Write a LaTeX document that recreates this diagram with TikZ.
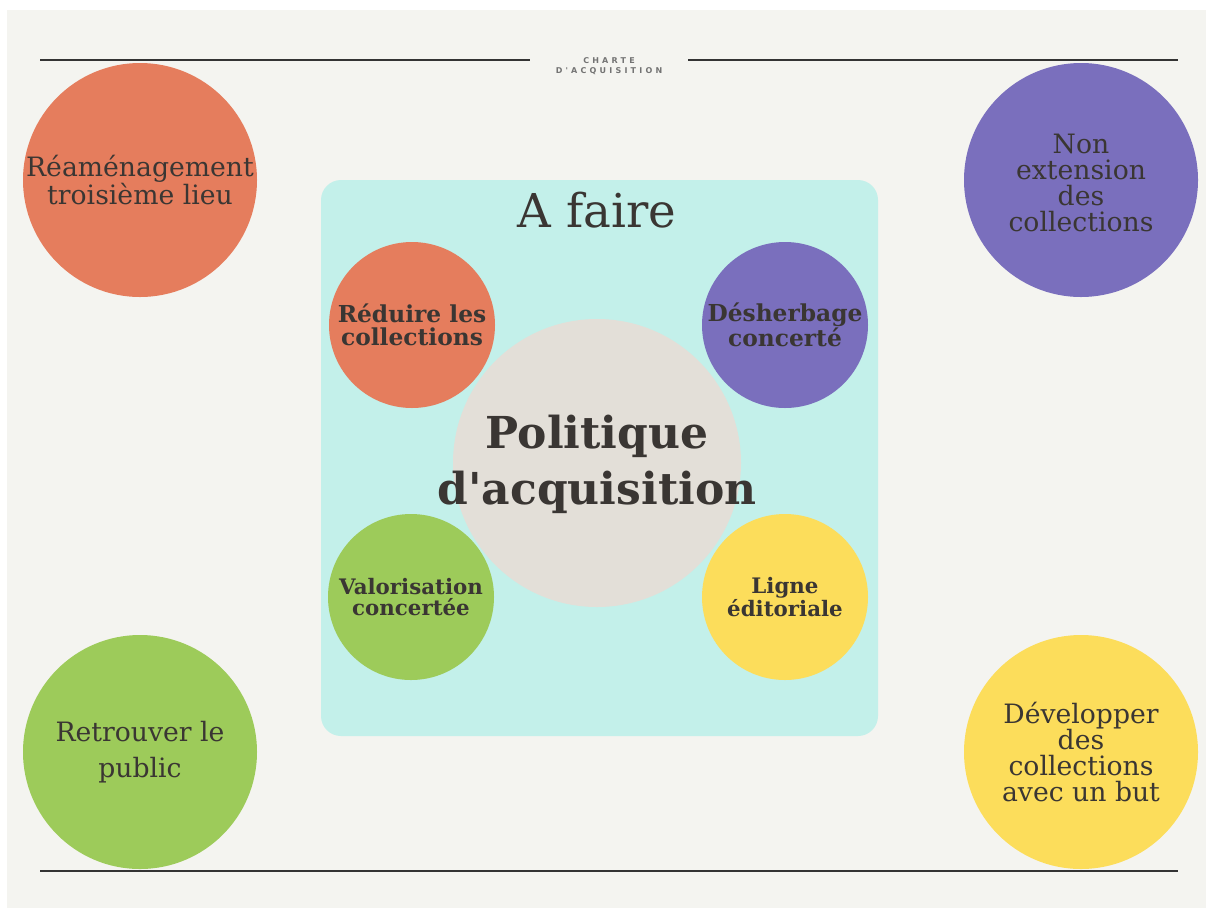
\documentclass[tikz,border=0pt]{standalone}
\usepackage{fontspec}
\setmainfont{DejaVu Serif}[Ligatures=TeXOff]
\newfontfamily\chartefont[LetterSpace=40,Ligatures=TeXOff]{DejaVu Sans}

\definecolor{slide}{HTML}{F4F4F0}
\definecolor{boxc}{HTML}{C3F0EA}
\definecolor{orangec}{HTML}{E57D5D}
\definecolor{violetc}{HTML}{7A6FBD}
\definecolor{vertc}{HTML}{9DCB5A}
\definecolor{jaunec}{HTML}{FCDD5B}
\definecolor{grisc}{HTML}{E3DFD8}
\definecolor{txt}{HTML}{3A3633}
\definecolor{rule}{HTML}{333333}

\tikzset{
  rond/.style={circle,inner sep=0pt},
  grand/.style={rond,minimum size=175.5pt},
  petit/.style={rond,minimum size=124.5pt},
  gtxt/.style={align=center,text=txt,font=\fontsize{20}{19.5}\selectfont},
  ptxt/.style={align=center,text=txt,font=\bfseries\fontsize{17.5}{17}\selectfont},
  trait/.style={rule,line width=2.2pt}
}

\begin{document}
\begin{tikzpicture}[x=0.75pt,y=-0.75pt]
        % background
        \useasboundingbox (0,0) rectangle (1206,911);
        \fill[white] (0,0) rectangle (1206,911);
        \fill[slide] (7,10) rectangle (1206,908);
        % header and footer rules
        \node[font=\chartefont\bfseries\fontsize{6}{7.5}\selectfont,text=black!55,align=center] (charte) at (609,66) {CHARTE\\D'ACQUISITION};
        \draw[trait] (40,60) -- (530,60);
        \draw[trait] (688,60) -- (1178,60);
        \draw[trait] (40,871) -- (1178,871);
        % corner circles
        \node[grand,fill=orangec] (lieu) at (140,180) {};
        \node[grand,fill=violetc] (extension) at (1081,180) {};
        \node[grand,fill=vertc] (public) at (140,752) {};
        \node[grand,fill=jaunec] (but) at (1081,752) {};
        \node[gtxt] at (lieu) {Réaménagement\\troisième lieu};
        \node[gtxt] at ([yshift=-2pt]extension) {Non\\extension\\des\\collections};
        \node[gtxt,font=\fontsize{20}{27}\selectfont] at (public) {Retrouver le\\public};
        \node[gtxt] at (but) {Développer\\des\\collections\\avec un but};
        % to do box
        \fill[boxc,rounded corners=15pt] (321,180) rectangle (878,736);
        \node[text=txt,font=\fontsize{35}{40}\selectfont] (afaire) at (597,210) {A faire};
        \node[petit,fill=orangec] (reduire) at (412,325) {};
        \node[petit,fill=violetc] (desherbage) at (785,325) {};
        \node[petit,fill=vertc] (valorisation) at (411,597) {};
        \node[petit,fill=jaunec] (ligne) at (785,597) {};
        \node[ptxt] at (reduire) {Réduire les\\collections};
        \node[ptxt] at (desherbage) {Désherbage\\concerté};
        \node[ptxt,font=\bfseries\fontsize{16}{15.5}\selectfont] at (valorisation) {Valorisation\\concertée};
        \node[ptxt,font=\bfseries\fontsize{16}{15.5}\selectfont] at (ligne) {Ligne\\éditoriale};
        % centre
        \node[rond,fill=grisc,minimum size=216pt] (politique) at (597,463) {};
        \node[align=center,text=txt,font=\bfseries\fontsize{33}{42}\selectfont] at ([yshift=-1pt]politique) {Politique\\d'acquisition};
\end{tikzpicture}
\end{document}
